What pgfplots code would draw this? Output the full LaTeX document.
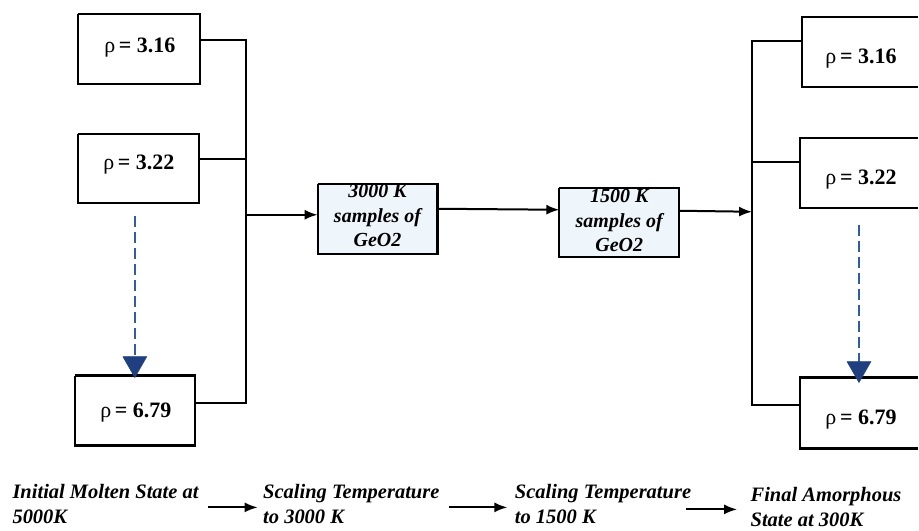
\documentclass[border=0pt]{standalone}
\usepackage{fontspec}
\setmainfont{Liberation Serif}
\usepackage{pgfplots}
\pgfplotsset{compat=1.18}
\usetikzlibrary{arrows.meta}

\definecolor{boxblue}{HTML}{EEF5FB}
\definecolor{dashblue}{HTML}{2F5F9E}
\definecolor{tipblue}{HTML}{1F3F80}

\newcommand{\rhotext}[1]{\fontsize{22}{24}\selectfont ρ\,\textbf{= #1}}
\tikzset{
    stage/.style={align=center, font=\fontsize{20}{24.5}\selectfont\bfseries\itshape},
    flow/.style={align=left, anchor=west, font=\fontsize{20.5}{25}\selectfont\bfseries\itshape},
    arr/.style={-{Latex[length=13pt,width=10pt]}},
}

\begin{document}
\begin{tikzpicture}
\begin{axis}[
    width=919pt, height=529pt,
    scale only axis,
    xmin=0, xmax=919, ymin=0, ymax=529,
    y dir=reverse,
    hide axis,
    clip=false,
]
% frame of the picture (invisible)
\addplot[draw=none, no marks] coordinates {(0,0) (919,529)};
% left density boxes
\addplot[black, line width=2.2pt, no marks] coordinates {(78,14) (200,14) (200,84) (78,84) (78,14)};
\addplot[black, line width=2.2pt, no marks] coordinates {(78,134) (199,134) (199,203) (78,203) (78,134)};
\addplot[black, line width=2.2pt, no marks] coordinates {(75,376) (195,376) (195,446) (75,446) (75,376)};
% left connectors
\addplot[black, line width=2pt, no marks] coordinates {(200,40) (246,40) (246,403) (195,403)};
\addplot[black, line width=2pt, no marks] coordinates {(199,159) (246,159)};
\addplot[black, line width=2pt, no marks, arr] coordinates {(246,215) (318,215)};
% 3000 K box
\addplot[black, fill=boxblue, line width=2.2pt, no marks] coordinates {(318,184) (438,184) (438,254) (318,254) (318,184)};
\addplot[black, line width=2pt, no marks, arr] coordinates {(438,209) (560,210)};
% 1500 K box
\addplot[black, fill=boxblue, line width=2.2pt, no marks] coordinates {(560,188) (680,188) (680,257) (560,257) (560,188)};
\addplot[black, line width=2pt, no marks, arr] coordinates {(680,211) (753,212)};
% right connectors
\addplot[black, line width=2pt, no marks] coordinates {(803,41) (753,41) (753,405) (801,405)};
\addplot[black, line width=2pt, no marks] coordinates {(753,162) (801,162)};
% right density boxes (cut at the edge)
\addplot[black, line width=2.2pt, no marks] coordinates {(919,17) (803,17) (803,87) (919,87)};
\addplot[black, line width=2.2pt, no marks] coordinates {(919,138) (801,138) (801,208) (919,208)};
\addplot[black, line width=2.2pt, no marks] coordinates {(919,378) (801,378) (801,449) (919,449)};
% dashed blue arrows
\addplot[dashblue, line width=2.5pt, no marks, dash pattern=on 11pt off 5pt] coordinates {(135,216) (135,358)};
\addplot[tipblue, fill=tipblue, line width=0.5pt, no marks] coordinates {(123,357) (147,357) (135,378) (123,357)};
\addplot[dashblue, line width=2.5pt, no marks, dash pattern=on 11pt off 5pt] coordinates {(860,225) (860,363)};
\addplot[tipblue, fill=tipblue, line width=0.5pt, no marks] coordinates {(848,362) (872,362) (860,383) (848,362)};
% bottom flow arrows
\addplot[black, line width=2pt, no marks, arr] coordinates {(208,508) (258,508)};
\addplot[black, line width=2pt, no marks, arr] coordinates {(450,508) (508,508)};
\addplot[black, line width=2pt, no marks, arr] coordinates {(687,510) (738,510)};

% texts
\node at (axis cs:140,48) {\rhotext{3.16}};
\node at (axis cs:139,165) {\rhotext{3.22}};
\node at (axis cs:136,413) {\rhotext{6.79}};
\node at (axis cs:862,59) {\rhotext{3.16}};
\node at (axis cs:862,180) {\rhotext{3.22}};
\node at (axis cs:862,420) {\rhotext{6.79}};
\node[stage] at (axis cs:378,216) {3000 K\\samples of\\GeO2};
\node[stage] at (axis cs:620,221) {1500 K\\samples of\\GeO2};
\node[flow] at (axis cs:9,505) {Initial Molten State at\\5000K};
\node[flow] at (axis cs:260,505) {Scaling Temperature\\to 3000 K};
\node[flow] at (axis cs:512,505) {Scaling Temperature\\to 1500 K};
\node[flow] at (axis cs:748,508) {Final Amorphous\\State at 300K};
\end{axis}
\end{tikzpicture}
\end{document}
